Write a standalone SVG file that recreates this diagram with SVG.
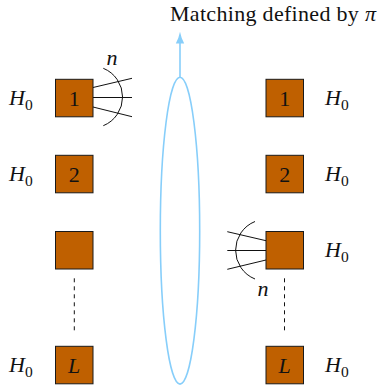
<svg xmlns="http://www.w3.org/2000/svg" width="380" height="387" viewBox="0 0 380 387">
  <style>
    .box { fill: #BF6000; stroke: #1a1a1a; stroke-width: 1; }
    .lbl { font-family: 'Liberation Serif', 'DejaVu Serif', serif; font-size: 22px; fill: #111; }
    .it { font-style: italic; }
    .sub { font-size: 15.5px; font-style: normal; }
    .ln { stroke: #111; stroke-width: 1; fill: none; }
    .dash { stroke: #111; stroke-width: 1; stroke-dasharray: 4 4; fill: none; }
    .match { stroke: #87CEFA; stroke-width: 1.6; fill: none; }
  </style>
  <rect width="380" height="387" fill="#ffffff"/>

  <g id="matching">
    <ellipse class="match" cx="180" cy="230.7" rx="19.7" ry="153.4"/>
    <text class="lbl" x="170" y="21" textLength="206" lengthAdjust="spacing">Matching defined by <tspan class="it">π</tspan></text>
  </g>

  <g id="L1">
    <rect class="box" x="55.5" y="79.3" width="37.5" height="37.5"/>
    <text class="lbl" x="74.2" y="105.5" text-anchor="middle">1</text>
    <text class="lbl it" x="9" y="105">H<tspan class="sub" dy="5">0</tspan></text>
  </g>
  <g id="L2">
    <rect class="box" x="55.5" y="155.3" width="37.5" height="37.5"/>
    <text class="lbl" x="74.2" y="181.5" text-anchor="middle">2</text>
    <text class="lbl it" x="9" y="181">H<tspan class="sub" dy="5">0</tspan></text>
  </g>
  <g id="L3">
    <rect class="box" x="55.5" y="231.5" width="37.5" height="37.5"/>
  </g>
  <g id="LL">
    <rect class="box" x="55.5" y="346.3" width="37.5" height="37.5"/>
    <text class="lbl it" x="74.2" y="372.5" text-anchor="middle">L</text>
    <text class="lbl it" x="9" y="372">H<tspan class="sub" dy="5">0</tspan></text>
  </g>

  <g id="R1">
    <rect class="box" x="266" y="79.3" width="37.5" height="37.5"/>
    <text class="lbl" x="284.7" y="105.5" text-anchor="middle">1</text>
    <text class="lbl it" x="325" y="105">H<tspan class="sub" dy="5">0</tspan></text>
  </g>
  <g id="R2">
    <rect class="box" x="266" y="155.3" width="37.5" height="37.5"/>
    <text class="lbl" x="284.7" y="181.5" text-anchor="middle">2</text>
    <text class="lbl it" x="325" y="181">H<tspan class="sub" dy="5">0</tspan></text>
  </g>
  <g id="R3">
    <rect class="box" x="266" y="231.5" width="37.5" height="37.5"/>
    <text class="lbl it" x="325" y="257">H<tspan class="sub" dy="5">0</tspan></text>
  </g>
  <g id="RL">
    <rect class="box" x="266" y="346.3" width="37.5" height="37.5"/>
    <text class="lbl it" x="284.7" y="372.5" text-anchor="middle">L</text>
    <text class="lbl it" x="325" y="372">H<tspan class="sub" dy="5">0</tspan></text>
  </g>

  <g id="connectors">
    <line x1="180" y1="77.3" x2="180" y2="42" stroke="#87CEFA" stroke-width="1.6"/>
    <path d="M180,31.7 Q181.5,39 184.2,43.6 L175.8,43.6 Q178.5,39 180,31.7 Z" fill="#87CEFA"/>

    <line class="ln" x1="93" y1="87.5" x2="132" y2="78.3"/>
    <line class="ln" x1="93" y1="97.5" x2="132" y2="97.5"/>
    <line class="ln" x1="93" y1="107" x2="132" y2="116.7"/>
    <path class="ln" d="M103.3,68.3 A31,31 0 0 1 103.3,125.7"/>
    <text class="lbl it" x="112" y="65" text-anchor="middle">n</text>

    <line class="ln" x1="227.3" y1="231.7" x2="266" y2="240.7"/>
    <line class="ln" x1="227.3" y1="250.5" x2="266" y2="250.5"/>
    <line class="ln" x1="227.3" y1="269.3" x2="266" y2="260"/>
    <path class="ln" d="M255,221.5 A31,31 0 0 0 255,279"/>
    <text class="lbl it" x="263" y="296" text-anchor="middle">n</text>

    <line class="dash" x1="74.3" y1="278.3" x2="74.3" y2="333"/>
    <line class="dash" x1="284.5" y1="278.3" x2="284.5" y2="333"/>
  </g>
</svg>
